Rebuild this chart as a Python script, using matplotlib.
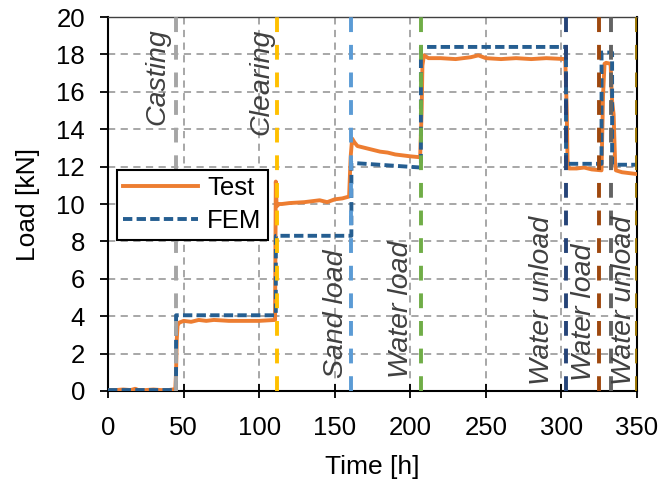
import matplotlib
matplotlib.use("Agg")
import matplotlib.pyplot as plt

plt.rcParams['font.family'] = ['Liberation Sans', 'DejaVu Sans']

# Test measurement (time [h], load [kN])
test_t = [0, 5, 10, 15, 18, 20, 25, 30, 35, 40, 44.5, 45, 45.5, 46, 47, 50, 55, 60, 65, 70, 80, 90, 100, 110.5,
          111, 111.5, 112, 113, 115, 120, 130, 140, 145, 150, 155, 159.5,
          160.5, 161.5, 163, 165, 170, 175, 180, 185, 190, 195, 200, 206.5,
          207.5, 208, 209, 212, 220, 230, 240, 245, 250, 260, 270, 280, 290, 302.5,
          303.5, 304, 304.5, 305, 310, 315, 320, 326.5,
          327.5, 328.5, 329.5, 332.5, 333.5, 334.5, 335.5, 336, 340, 345, 350]
test_y = [0.05, 0.05, 0.08, 0.05, 0.12, 0.05, 0.05, 0.08, 0.05, 0.05, 0.1, 1.0, 2.8, 3.5, 3.65, 3.75, 3.7, 3.8, 3.75, 3.8, 3.75, 3.75, 3.75, 3.8,
        11.2, 10.0, 9.9, 10.0, 10.0, 10.05, 10.1, 10.2, 10.1, 10.25, 10.3, 10.4,
        12.5, 13.5, 13.3, 13.1, 13.0, 12.9, 12.8, 12.75, 12.65, 12.6, 12.55, 12.5,
        15.0, 17.4, 17.95, 17.8, 17.8, 17.75, 17.85, 17.95, 17.8, 17.75, 17.8, 17.75, 17.8, 17.75,
        15.0, 12.4, 12.0, 11.9, 11.9, 11.95, 11.85, 11.8,
        15.8, 17.5, 17.55, 17.5, 15.5, 14.8, 12.2, 11.8, 11.7, 11.65, 11.6]

# FEM results
fem_t = [0, 45, 45.01, 111, 111.01, 161, 161.01, 207, 207.01, 303, 303.01, 326.5, 326.51, 333.5, 333.51, 350]
fem_y = [0.05, 0.05, 4.05, 4.05, 8.3, 8.3, 12.2, 11.95, 18.4, 18.4, 12.15, 12.15, 18.1, 18.1, 12.1, 12.1]

# Event markers
event_t = [45, 111.5, 161, 207, 303, 325, 333, 350]
event_colors = ['#A5A5A5', '#FFC000', '#5B9BD5', '#70AD47', '#264478', '#9E480E', '#636363', '#997300']

# Event labels (text, x position, y anchor, vertical alignment)
label_text = ['Casting', 'Clearing', 'Sand load', 'Water load', 'Water unload', 'Water load', 'Water unload']
label_x = [33, 101.5, 151, 194, 287, 315, 341.5]
label_y = [19.4, 19.4, 0.7, 0.7, 0.3, 0.55, 0.3]
label_va = ['top', 'top', 'bottom', 'bottom', 'bottom', 'bottom', 'bottom']

fig = plt.figure(figsize=(6.64, 4.82), dpi=100)
ax = fig.add_axes([0.1627, 0.1888, 0.7967, 0.7759])

ax.plot(test_t, test_y, color='#ED7D31', lw=2.8, solid_joinstyle='round', label='Test', zorder=3)
ax.plot(fem_t, fem_y, color='#255E91', lw=2.8, dashes=(2.4, 1.1), label='FEM', zorder=4)

for t, c in zip(event_t, event_colors):
    ax.axvline(t, color=c, lw=2.8, dashes=(3.8, 3.3), zorder=5)

for s, x, y, va in zip(label_text, label_x, label_y, label_va):
    ax.text(x, y, s, rotation=90, ha='center', va=va, fontsize=20.5,
            style='italic', color='#404040', zorder=6)

ax.set_xlim(0, 350)
ax.set_ylim(0, 20)
ax.set_xticks(range(0, 351, 50))
ax.set_yticks(range(0, 21, 2))
ax.grid(True, color='#A0A0A0', lw=1.3, dashes=(4, 3))
ax.set_axisbelow(True)
ax.tick_params(axis='x', direction='inout', length=10, width=1.3, labelsize=18.5, pad=13)
ax.tick_params(axis='y', direction='out', length=6, width=1.3, labelsize=18.5, pad=10.5)
for sp in ax.spines.values():
    sp.set_linewidth(1.5)
ax.spines['top'].set_color('#404040')
ax.spines['top'].set_linewidth(1.0)

ax.set_xlabel('Time [h]', fontsize=19, labelpad=11)
ax.set_ylabel('Load [kN]', fontsize=19, labelpad=12)

leg = ax.legend(loc='upper left', bbox_to_anchor=(0.017, 0.591), fontsize=18.5,
                handlelength=2.9, fancybox=False, framealpha=1, edgecolor='black',
                borderpad=0.25, labelspacing=0.35, handletextpad=0.35, borderaxespad=0)
leg.get_frame().set_linewidth(1.5)
leg.set_zorder(10)

fig.savefig('out.png', dpi=100)
